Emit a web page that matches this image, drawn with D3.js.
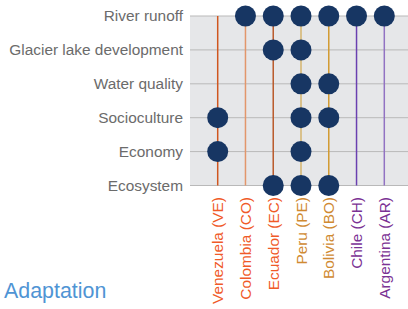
<!DOCTYPE html>
<html>
<head>
<meta charset="utf-8">
<script src="https://cdn.jsdelivr.net/npm/d3@7"></script>
<style>
  body { margin: 0; background: #fff; }
  svg { display: block; }
</style>
</head>
<body>
<svg id="chart" width="408" height="309"></svg>
<script>
// rows (impact categories) and columns (countries)
var impacts = ["River runoff", "Glacier lake development", "Water quality", "Socioculture", "Economy", "Ecosystem"];
var countries = ["Venezuela (VE)", "Colombia (CO)", "Ecuador (EC)", "Peru (PE)", "Bolivia (BO)", "Chile (CH)", "Argentina (AR)"];
var codes = ["VE", "CO", "EC", "PE", "BO", "CH", "AR"];

// which countries have a dot in each row
var riverRunoff = ["CO", "EC", "PE", "BO", "CH", "AR"];
var glacierLake = ["EC", "PE"];
var waterQuality = ["PE", "BO"];
var socioculture = ["VE", "PE", "BO"];
var economy = ["VE", "PE"];
var ecosystem = ["EC", "PE", "BO"];

var lineColors = ["#d0561f", "#e2966b", "#b95a2b", "#d5b46d", "#d29b31", "#6a40b0", "#9172c2"];
var labelColors = ["#f05a28", "#f05a28", "#f05a28", "#d08a32", "#d08a32", "#7b3294", "#7b3294"];

var rows = [riverRunoff, glacierLake, waterQuality, socioculture, economy, ecosystem];
var cells = [];
rows.forEach(function(list, i) {
    list.forEach(function(c) { cells.push({impact: impacts[i], code: c}); });
});

var svg = d3.select("#chart");

var x = d3.scalePoint().domain(codes).range([217.7, 384.3]);
var y = d3.scalePoint().domain(impacts).range([16, 185.5]);

var panelLeft = 190, panelRight = 408;

svg.append("rect")
    .attr("x", panelLeft)
    .attr("y", y(impacts[0]))
    .attr("width", panelRight - panelLeft)
    .attr("height", y(impacts[impacts.length - 1]) - y(impacts[0]))
    .attr("fill", "#e6e7e9");

// horizontal grid lines
svg.append("g").selectAll("line")
    .data(impacts)
    .enter().append("line")
    .attr("x1", panelLeft)
    .attr("x2", panelRight)
    .attr("y1", function(d) { return y(d); })
    .attr("y2", function(d) { return y(d); })
    .attr("stroke", "#b9b9b9")
    .attr("stroke-width", 1);

// country vertical lines
svg.append("g").selectAll("line")
    .data(codes)
    .enter().append("line")
    .attr("x1", function(d) { return x(d); })
    .attr("x2", function(d) { return x(d); })
    .attr("y1", y(impacts[0]))
    .attr("y2", y(impacts[impacts.length - 1]))
    .attr("stroke", function(d, i) { return lineColors[i]; })
    .attr("stroke-width", 1.5);

// dots
svg.append("g").selectAll("circle")
    .data(cells)
    .enter().append("circle")
    .attr("cx", function(d) { return x(d.code); })
    .attr("cy", function(d) { return y(d.impact); })
    .attr("r", 10.5)
    .attr("fill", "#173663");

// row labels
svg.append("g").selectAll("text")
    .data(impacts)
    .enter().append("text")
    .attr("x", 183)
    .attr("y", function(d) { return y(d); })
    .attr("dy", "0.35em")
    .attr("text-anchor", "end")
    .attr("font-family", "Liberation Sans, Arial, sans-serif")
    .attr("font-size", 15.4)
    .attr("fill", "#6b6b6b")
    .text(function(d) { return d; });

// country labels
svg.append("g").selectAll("text")
    .data(codes)
    .enter().append("text")
    .attr("transform", function(d) { return "translate(" + (x(d) + 5.5) + ",197) rotate(-90)"; })
    .attr("text-anchor", "end")
    .attr("font-family", "Liberation Sans, Arial, sans-serif")
    .attr("font-size", 15.4)
    .attr("fill", function(d, i) { return labelColors[i]; })
    .text(function(d, i) { return countries[i]; });

svg.append("text")
    .attr("x", 4)
    .attr("y", 298)
    .attr("font-family", "Liberation Sans, Arial, sans-serif")
    .attr("font-size", 21.4)
    .attr("fill", "#4f94d4")
    .text("Adaptation");
</script>
</body>
</html>
